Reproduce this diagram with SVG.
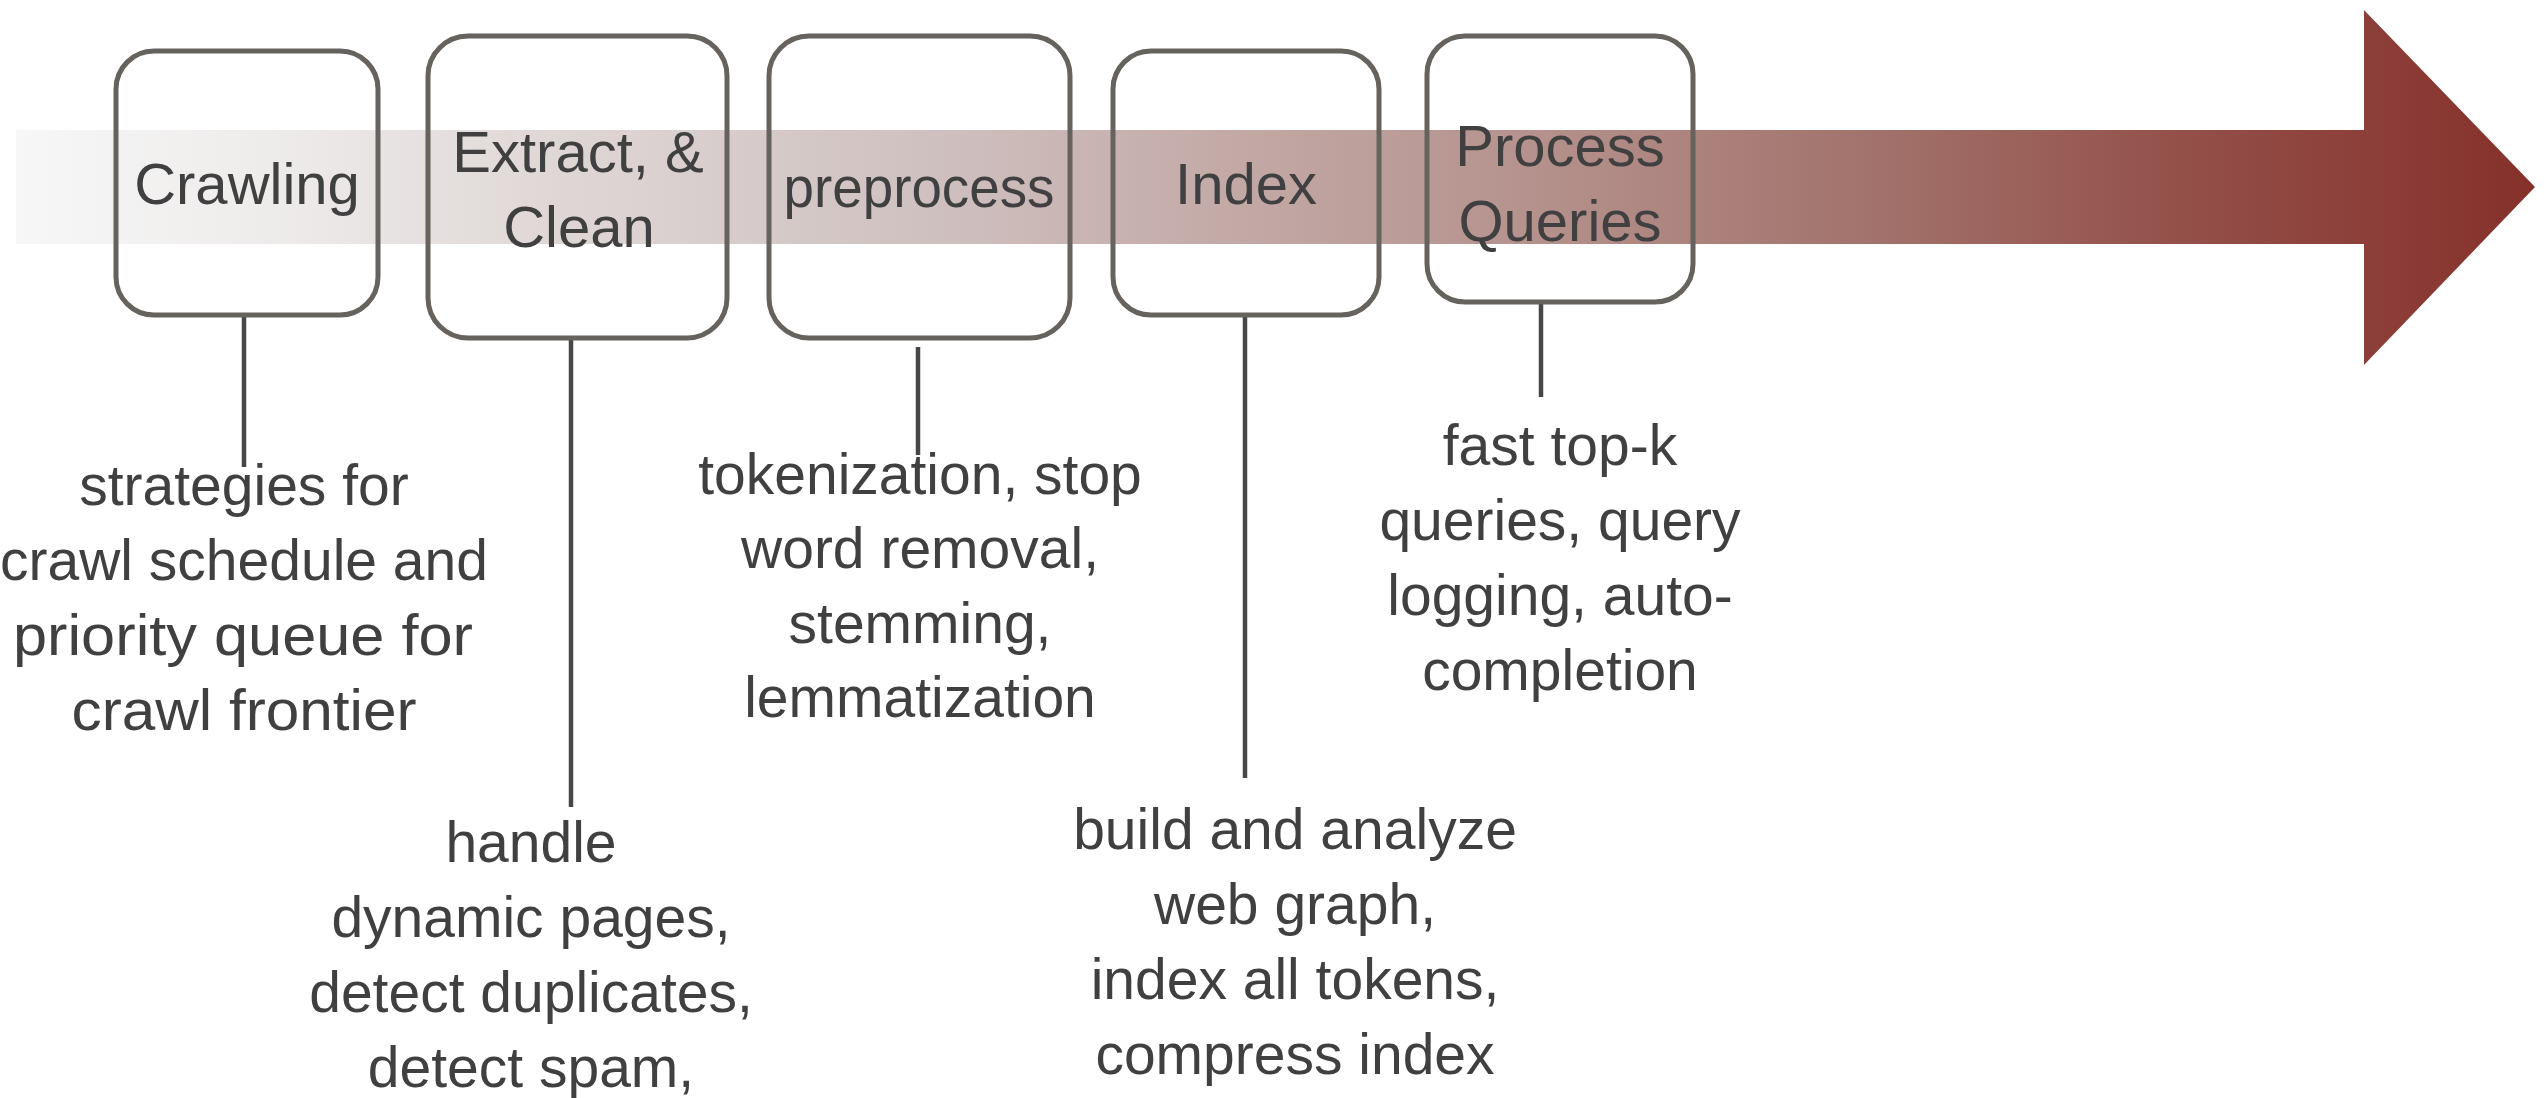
<svg xmlns="http://www.w3.org/2000/svg" width="2546" height="1098" viewBox="0 0 2546 1098">
  <defs>
    <linearGradient id="flowGrad" gradientUnits="userSpaceOnUse" x1="16" y1="0" x2="2535" y2="0">
      <stop offset="0" stop-color="#f7f7f7"/>
      <stop offset="0.1" stop-color="#eeeceb"/>
      <stop offset="0.22" stop-color="#ded6d5"/>
      <stop offset="0.36" stop-color="#cfc1c0"/>
      <stop offset="0.49" stop-color="#c2a8a5"/>
      <stop offset="0.61" stop-color="#b4908b"/>
      <stop offset="0.74" stop-color="#a2716b"/>
      <stop offset="0.86" stop-color="#935049"/>
      <stop offset="1" stop-color="#86302a"/>
    </linearGradient>
    <style>
      .box { fill: none; stroke: #66635e; stroke-width: 5; }
      .title { font-family: "Liberation Sans", Arial, sans-serif; font-size: 58px; fill: #404040; text-anchor: middle; }
      .desc { font-family: "Liberation Sans", Arial, sans-serif; font-size: 57px; fill: #404040; text-anchor: middle; }
      .link { stroke: #474747; stroke-width: 4.5; fill: none; }
    </style>
  </defs>

  <rect width="2546" height="1098" fill="#ffffff"/>

  <!-- pipeline arrow -->
  <polygon id="flow-arrow" points="16,130 2364,130 2364,10 2535,187 2364,365 2364,244 16,244" fill="url(#flowGrad)"/>

  <!-- connectors from stages to their notes -->
  <g id="connectors">
    <line class="link" x1="244" y1="317" x2="244" y2="467"/>
    <line class="link" x1="571" y1="338" x2="571" y2="807"/>
    <line class="link" x1="918" y1="347" x2="918" y2="455"/>
    <line class="link" x1="1245" y1="317" x2="1245" y2="778"/>
    <line class="link" x1="1541" y1="304" x2="1541" y2="397"/>
  </g>

  <g id="crawling">
    <rect class="box" x="116" y="51" width="262" height="264" rx="38"/>
    <text class="title" x="247" y="204">Crawling</text>
    <text class="desc" x="244" y="505">strategies for</text>
    <text class="desc" x="244" y="580">crawl schedule and</text>
    <text class="desc" x="243" y="655" textLength="460" lengthAdjust="spacingAndGlyphs">priority queue for</text>
    <text class="desc" x="244" y="730" textLength="345" lengthAdjust="spacingAndGlyphs">crawl frontier</text>
  </g>

  <g id="extract-clean">
    <rect class="box" x="428" y="36" width="299" height="302" rx="40"/>
    <text class="title" x="578" y="172">Extract, &amp;</text>
    <text class="title" x="579" y="247">Clean</text>
    <text class="desc" x="531" y="862">handle</text>
    <text class="desc" x="531" y="937">dynamic pages,</text>
    <text class="desc" x="531" y="1012">detect duplicates,</text>
    <text class="desc" x="531" y="1087">detect spam,</text>
  </g>

  <g id="preprocess">
    <rect class="box" x="769" y="36" width="301" height="302" rx="40"/>
    <text class="title" x="919" y="207" textLength="271" lengthAdjust="spacingAndGlyphs">preprocess</text>
    <text class="desc" x="920" y="494">tokenization, stop</text>
    <text class="desc" x="920" y="568">word removal,</text>
    <text class="desc" x="920" y="643">stemming,</text>
    <text class="desc" x="920" y="717">lemmatization</text>
  </g>

  <g id="index">
    <rect class="box" x="1113" y="51" width="266" height="264" rx="38"/>
    <text class="title" x="1246" y="204">Index</text>
    <text class="desc" x="1295" y="849">build and analyze</text>
    <text class="desc" x="1295" y="924">web graph,</text>
    <text class="desc" x="1295" y="999">index all tokens,</text>
    <text class="desc" x="1295" y="1074">compress index</text>
  </g>

  <g id="process-queries">
    <rect class="box" x="1427" y="36" width="266" height="266" rx="38"/>
    <text class="title" x="1560" y="166">Process</text>
    <text class="title" x="1560" y="241">Queries</text>
    <text class="desc" x="1560" y="465">fast top-k</text>
    <text class="desc" x="1560" y="540">queries, query</text>
    <text class="desc" x="1560" y="615">logging, auto-</text>
    <text class="desc" x="1560" y="690">completion</text>
  </g>
</svg>
